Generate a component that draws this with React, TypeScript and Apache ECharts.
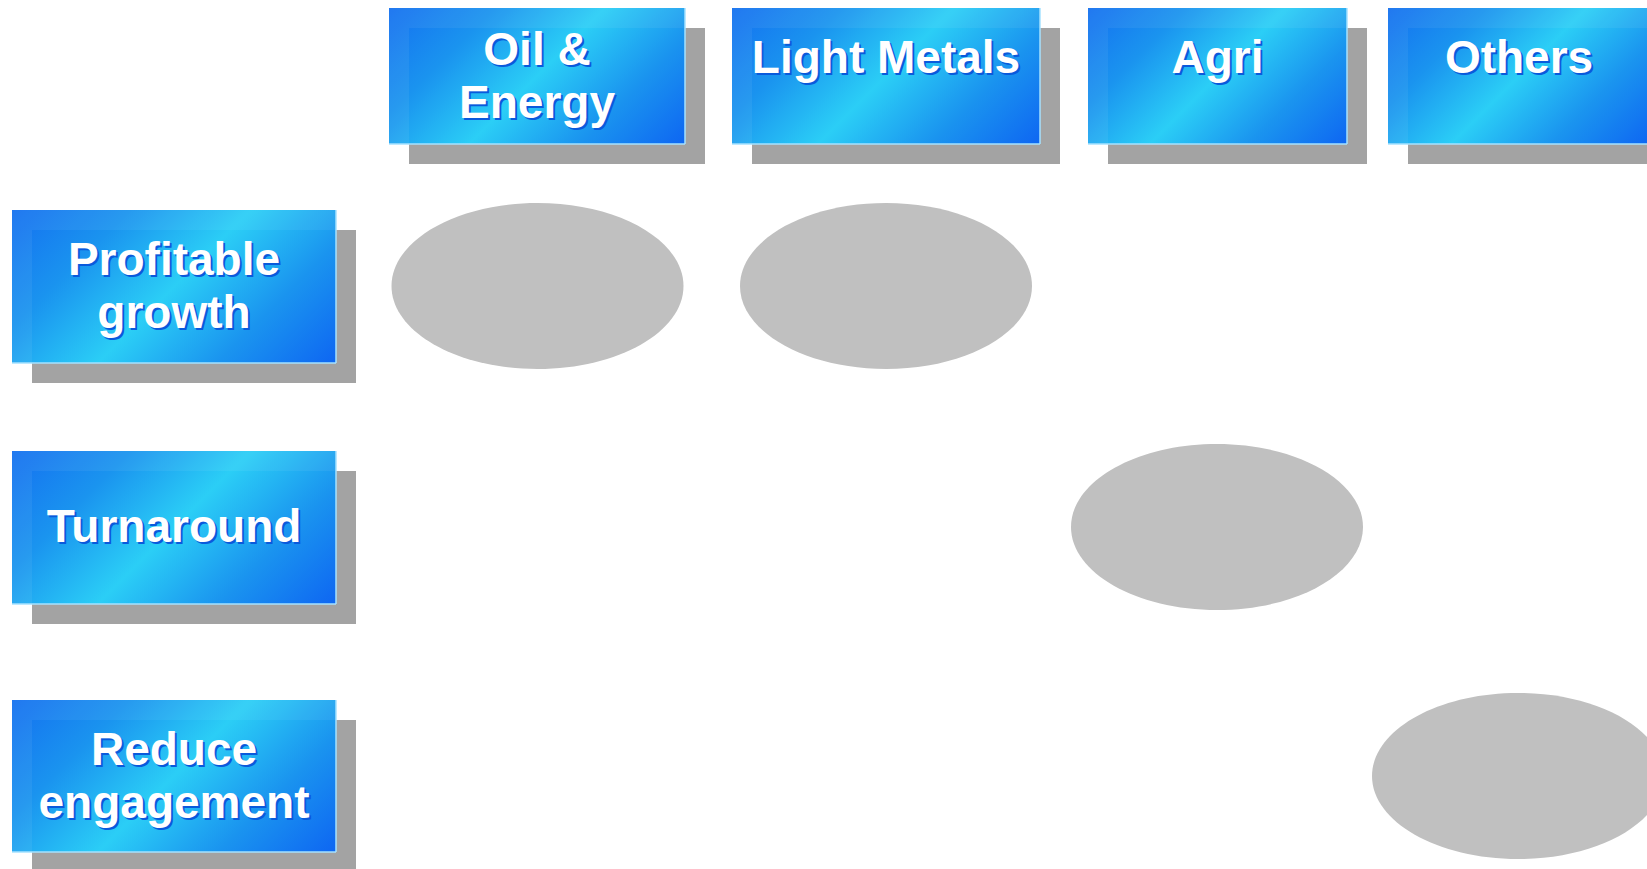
import React, { useEffect, useRef } from "react";
import * as echarts from "echarts";

// ---- data ----
const COLUMNS: string[] = ["Oil &\nEnergy", "Light Metals", "Agri", "Others"];
const ROWS: string[] = ["Profitable\ngrowth", "Turnaround", "Reduce\nengagement"];
// which strategy row each business column is placed in
const COLUMN_ROW: number[] = [0, 0, 1, 2];

// ---- layout (pixels) ----
const HEADER_BOXES: number[][] = [
  [389, 8, 296, 136],
  [732, 8, 308, 136],
  [1088, 8, 259, 136],
  [1388, 8, 262, 136],
];
const HEADER_TEXT_Y: number[] = [75.5, 57, 57, 57];
const ROW_BOXES: number[][] = [
  [12, 210, 324, 153],
  [12, 451, 324, 153],
  [12, 700, 324, 152],
];
const ROW_TEXT_Y: number[] = [285, 526, 775];
const COL_CENTER_X: number[] = [537.5, 886, 1217, 1518];
const ROW_CENTER_Y: number[] = [286, 527, 776];
const ELLIPSE_RX = 146;
const ELLIPSE_RY = 83;

const FONT = "bold 46px 'Liberation Sans', Arial, sans-serif";

function makeBox(b: number[], label: string, textY: number): any[] {
  const [x, y, w, h] = b;
  const cx = x + w / 2;
  const cy = y + h / 2;
  const d = (w + h) / 4;
  const fill = new echarts.graphic.LinearGradient(
    cx - d, cy - d, cx + d, cy + d,
    [
      { offset: 0, color: "#1470f0" },
      { offset: 0.25, color: "#1a94ef" },
      { offset: 0.5, color: "#2bcef6" },
      { offset: 0.75, color: "#1a94ef" },
      { offset: 1, color: "#0e66f2" },
    ],
    true
  );
  return [
    { type: "rect", shape: { x: x + 20, y: y + 20, width: w, height: h }, style: { fill: "#a3a3a3" } },
    { type: "rect", shape: { x, y, width: w, height: h }, style: { fill } },
    { type: "rect", shape: { x, y, width: w, height: 20 }, style: { fill: "rgba(255,255,255,0.06)" } },
    { type: "rect", shape: { x, y: y + 20, width: 20, height: h - 20 }, style: { fill: "rgba(255,255,255,0.06)" } },
    { type: "line", shape: { x1: x + w, y1: y, x2: x + w, y2: y + h }, style: { stroke: "#a6e2ff", lineWidth: 1.5 } },
    { type: "line", shape: { x1: x, y1: y + h, x2: x + w, y2: y + h }, style: { stroke: "#a6e2ff", lineWidth: 1.5 } },
    {
      type: "text",
      x: cx + 2,
      y: textY + 2,
      silent: true,
      style: {
        text: label,
        fill: "#0a5adc",
        font: FONT,
        align: "center",
        verticalAlign: "middle",
        lineHeight: 53,
      },
    },
    {
      type: "text",
      x: cx,
      y: textY,
      style: {
        text: label,
        fill: "#ffffff",
        font: FONT,
        align: "center",
        verticalAlign: "middle",
        lineHeight: 53,
      },
    },
  ];
}

export default function App() {
  const ref = useRef<HTMLDivElement>(null);
  useEffect(() => {
    document.body.style.margin = "0";
    const chart = echarts.init(ref.current!, null, { renderer: "svg" });
    const elements: any[] = [];
    COLUMN_ROW.forEach((r, c) => {
      elements.push({
        type: "ellipse",
        shape: { cx: COL_CENTER_X[c], cy: ROW_CENTER_Y[r], rx: ELLIPSE_RX, ry: ELLIPSE_RY },
        style: { fill: "#c0c0c0" },
      });
    });
    COLUMNS.forEach((label, i) => elements.push(...makeBox(HEADER_BOXES[i], label, HEADER_TEXT_Y[i])));
    ROWS.forEach((label, i) => elements.push(...makeBox(ROW_BOXES[i], label, ROW_TEXT_Y[i])));
    chart.setOption({
      animation: false,
      backgroundColor: "#ffffff",
      graphic: { elements },
    });
    return () => chart.dispose();
  }, []);
  return (
    <div
      ref={ref}
      style={{ position: "fixed", left: 0, top: 0, width: 1647, height: 869 }}
    />
  );
}
